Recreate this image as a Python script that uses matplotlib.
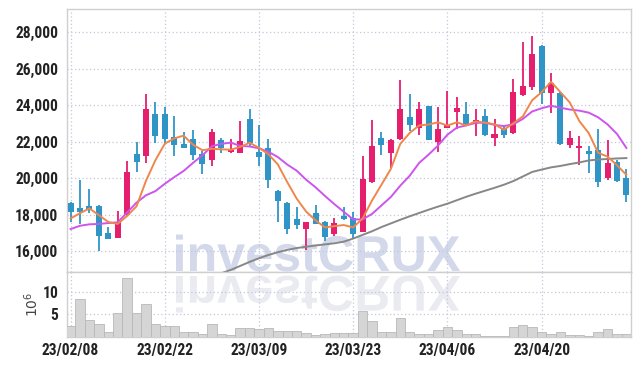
import numpy as np
import matplotlib
matplotlib.use("Agg")
import matplotlib.pyplot as plt
from matplotlib.textpath import TextPath
from matplotlib.patches import PathPatch
from matplotlib.font_manager import FontProperties
from matplotlib.transforms import Affine2D, IdentityTransform

# données (60 séances)
opens = [18650, 18350, 18500, 18500, 17000, 16750, 18000, 21350, 21250, 23550,
         23500, 22250, 21900, 22150, 21350, 21000, 22100, 21450, 21400, 23250,
         21450, 21650, 19300, 18650, 17750, 17200, 18100, 17600, 16950, 17950,
         17850, 17050, 19800, 22200, 21400, 22150, 23350, 22750, 23950, 22000,
         22750, 23650, 23550, 23050, 23400, 22200, 22750, 22500, 24550, 25000,
         27250, 24700, 24700, 21850, 21650, 21500, 21550, 20000, 20900, 20000]
highs = [18700, 19900, 19400, 18550, 17350, 18200, 20950, 22000, 24600, 24200,
         23900, 23400, 22550, 22650, 21500, 22700, 22200, 22150, 23150, 23800,
         22950, 22150, 19350, 18700, 18450, 17600, 18550, 17650, 17850, 18450,
         18150, 21250, 23200, 22550, 22150, 25400, 24600, 24200, 23950, 23900,
         24800, 24450, 24200, 23800, 23800, 23250, 22900, 25450, 27450, 27800,
         27300, 25800, 24750, 22600, 22300, 21750, 22700, 22100, 21000, 20500]
lows = [17600, 17500, 18100, 16000, 16650, 16750, 17950, 20350, 20850, 21950,
        21950, 21200, 21650, 21000, 20250, 20700, 21400, 21400, 21400, 21750,
        20700, 19450, 17600, 16950, 17200, 16050, 17500, 16550, 16850, 17700,
        16700, 17050, 19750, 21300, 20550, 22100, 22600, 22350, 22100, 21450,
        22750, 22700, 22850, 22300, 22300, 21750, 22200, 22450, 24500, 24850,
        24100, 23600, 21850, 21650, 20750, 20300, 19500, 19900, 19800, 18700]
closes = [18150, 18150, 18250, 16850, 16650, 17600, 20350, 20900, 23800, 22300,
          22150, 21800, 21650, 21300, 20800, 22550, 21650, 21550, 22050, 21950,
          21150, 19900, 18750, 17200, 17450, 17600, 17500, 16800, 17550, 17750,
          16950, 19950, 21750, 21850, 22100, 23800, 22950, 23800, 22100, 22700,
          22900, 23850, 22950, 23200, 22350, 22450, 22350, 24750, 25050, 26800,
          24650, 25200, 21900, 22200, 21750, 21350, 19800, 20850, 19850, 19100]
volumes = [2.35, 8.3, 3.85, 2.95, 1.0, 5.2, 13.0, 5.2, 7.2, 2.95,
           2.35, 2.35, 1.15, 1.15, 0.7, 2.95, 0.7, 0.5, 2.05, 2.05,
           1.85, 2.05, 1.4, 1.25, 1.4, 0.95, 0.5, 0.7, 0.95, 0.95,
           0.95, 5.65, 3.55, 1.15, 1.15, 4.2, 1.15, 0.7, 0.7, 1.45,
           2.3, 1.45, 0.7, 0.7, 0.3, 0.3, 0.12, 2.3, 2.55, 2.3,
           1.0, 0.7, 1.2, 0.5, 0.5, 0.12, 1.0, 1.8, 0.7, 0.7]

ma5 = [17800, 18090, 18350, 17980, 17610, 17500, 17940, 18470, 19860, 20990,
       21900, 22190, 22340, 21840, 21540, 21620, 21590, 21570, 21720, 21950,
       21670, 21320, 20760, 19790, 18890, 18180, 17700, 17310, 17380, 17440,
       17310, 17800, 18790, 19650, 20520, 21890, 22490, 22900, 22950, 23070,
       22890, 23070, 22900, 23120, 23050, 22960, 22660, 23020, 23390, 24280,
       24720, 25290, 24720, 24150, 23140, 22480, 21400, 21190, 20720, 20190]
ma10 = [17220, 17400, 17480, 17500, 17550, 17590, 18130, 18670, 19070, 19300,
        19700, 20065, 20405, 20850, 21265, 21760, 21890, 21955, 21780, 21745,
        21645, 21455, 21165, 20755, 20420, 19925, 19510, 19035, 18585, 18165,
        17745, 17750, 18050, 18515, 18980, 19600, 20145, 20845, 21300, 21795,
        22390, 22780, 22900, 23035, 23060, 22925, 22865, 22960, 23255, 23665,
        23840, 23975, 23870, 23770, 23710, 23600, 23345, 22955, 22435, 21665]
ma_long = [np.nan] * 16 + [
    14800, 14980, 15200, 15420, 15620, 15800, 15950, 16080, 16180, 16250,
    16320, 16380, 16440, 16530, 16700, 16900, 17100, 17330, 17530, 17730,
    17920, 18100, 18280, 18450, 18610, 18800, 18990, 19160, 19320, 19480,
    19650, 19850, 20100, 20350, 20480, 20600, 20680, 20780, 20870, 20980,
    21030, 21060, 21090, 21110]

tick_pos = [0, 10, 20, 30, 40, 50]
tick_labels = ['23/02/08', '23/02/22', '23/03/09', '23/03/23', '23/04/06', '23/04/20']
price_ticks = [16000, 18000, 20000, 22000, 24000, 26000, 28000]
vol_ticks = [5, 10]

# couleurs
c_up = '#e61e6e'
c_down = '#2f95c7'
c_grid = '#c3c7da'
c_spine = '#cfcfcf'

plt.rcParams['font.family'] = ['Roboto Condensed', 'Liberation Sans Narrow', 'Roboto', 'DejaVu Sans']
lab_kw = dict(fontsize=11.2, fontweight='bold', color='#222222')

fig = plt.figure(figsize=(6.39, 3.66), dpi=100)
ax = fig.add_axes([0.1043, 0.256, 0.8826, 0.7194])
axv = fig.add_axes([0.1043, 0.0792, 0.8826, 0.1768], sharex=ax)

x = np.arange(len(closes))
o = np.array(opens); c = np.array(closes)
h = np.array(highs); l = np.array(lows)
up = c >= o
cols = np.where(up, c_up, c_down)

# mèches + corps
ax.vlines(x, l, h, colors=cols, linewidth=1.3, zorder=3)
bottoms = np.minimum(o, c)
heights = np.maximum(np.abs(c - o), 60)
ax.bar(x, heights, bottom=bottoms, width=0.64, color=cols, zorder=4)

# moyennes mobiles
ax.plot(x, ma_long, color='#878787', linewidth=1.4, zorder=5)
ax.plot(x, ma10, color='#cc55ee', linewidth=1.4, zorder=5)
ax.plot(x, ma5, color='#ef874c', linewidth=1.4, zorder=6)

ax.set_ylim(14850, 29280)
ax.set_xlim(-0.42, 59.45)
ax.set_yticks(price_ticks)
ax.set_yticklabels([f'{v:,}' for v in price_ticks], **lab_kw)

# volume
axv.bar(x, volumes, width=1.0, color='#d5d5d5', edgecolor='#b8b8b8', linewidth=0.6, zorder=3)
axv.set_ylim(0, 14.3)
axv.set_yticks(vol_ticks)
axv.set_yticklabels([str(v) for v in vol_ticks], **lab_kw)
axv.set_xticks(tick_pos)
axv.set_xticklabels(tick_labels, **lab_kw)
axv.set_ylabel(r'$10^6$', fontsize=10, color='#444444')
axv.yaxis.set_label_coords(-0.045, 0.5)
plt.setp(ax.get_xticklabels(), visible=False)

for a in (ax, axv):
    a.set_xticks(tick_pos)
    a.grid(True, color=c_grid, linestyle=(0, (1, 2)), linewidth=0.9)
    a.set_axisbelow(True)
    a.tick_params(length=0, pad=6)
    for s in a.spines.values():
        s.set_color(c_spine)
        s.set_linewidth(1.0)
axv.tick_params(axis='x', pad=4)

# filigrane investCRUX + reflet
fp = FontProperties(family='Liberation Sans', weight='bold')
tp = TextPath((0, 0), 'investCRUX', size=50, prop=fp)
bb = tp.get_extents()
s = 284.0 / bb.width
x0 = 176 - bb.x0 * s
H = 366
t_main = Affine2D().scale(s, s).translate(x0, H - 271)
t_refl = Affine2D().scale(s, -s).translate(x0, H - 276)
ax.add_patch(PathPatch(tp, transform=t_main + IdentityTransform(), facecolor='#d3d8ea',
                       edgecolor='none', zorder=0.5, clip_on=False))
axv.add_patch(PathPatch(tp, transform=t_refl + IdentityTransform(), facecolor='#eaeaf1',
                        edgecolor='none', zorder=0.5, clip_on=False))

fig.savefig('out.png', dpi=100)
